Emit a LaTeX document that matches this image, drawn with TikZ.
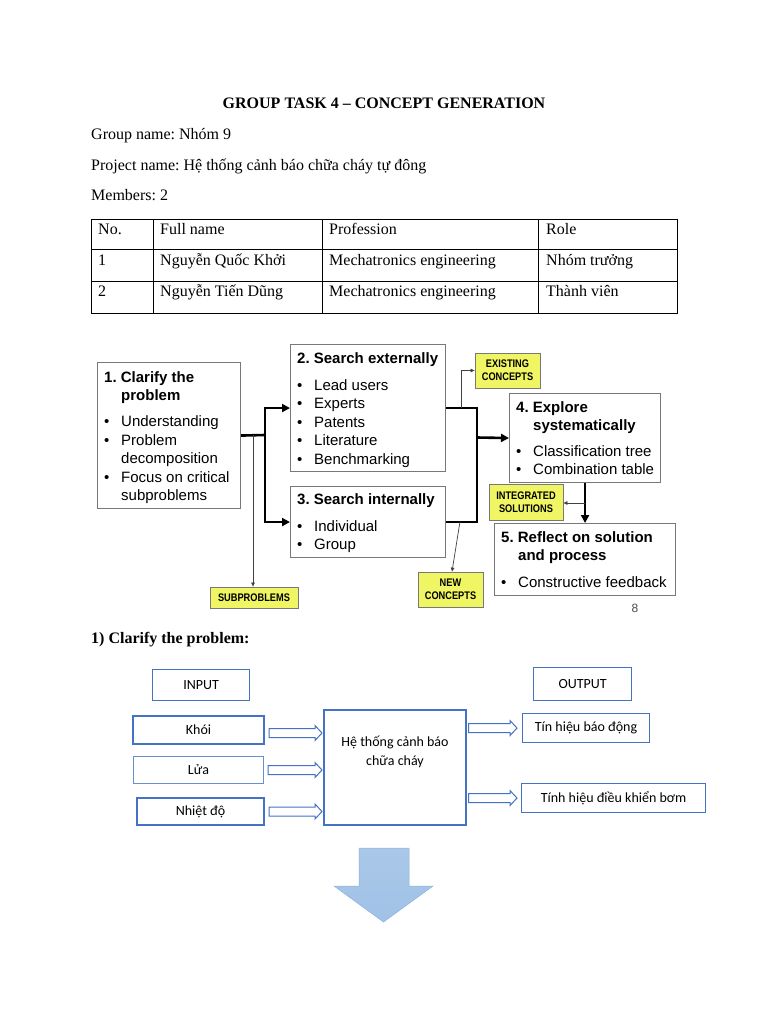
\documentclass[tikz,border=0pt]{standalone}
\usepackage{fontspec}
\setmainfont{Liberation Serif}
\newfontfamily\arialf{Liberation Sans}
\newfontfamily\narrowf[FakeStretch=0.84]{Liberation Sans}
\newfontfamily\calf{Carlito}
\usetikzlibrary{arrows.meta,calc}
\frenchspacing
\definecolor{ylw}{RGB}{240,245,100}
\definecolor{bdr}{RGB}{68,114,196}
\definecolor{gbd}{RGB}{120,120,120}
\definecolor{bfill}{RGB}{160,194,230}
\definecolor{bfilledge}{RGB}{140,178,222}
\newcommand\bul{\makebox[17pt][l]{•}}
\newcommand\ind{\hspace*{17pt}}
\newcommand\blockarrow[2]{\draw[barr] ($(#1)+(0,-4.5)$) -- ($(#2)+(-7,-4.5)$) -- ($(#2)+(-7,-7.5)$) -- (#2) -- ($(#2)+(-7,7.5)$) -- ($(#2)+(-7,4.5)$) -- ($(#1)+(0,4.5)$) -- cycle;}
\begin{document}
\begin{tikzpicture}[x=1pt,y=-1pt,
  txt/.style={anchor=base west, inner sep=0pt, font=\fontsize{16}{19}\selectfont},
  pbox/.style={draw=gbd, line width=1.1pt, fill=white, anchor=north west, inner sep=0pt},
  ptxt/.style={anchor=base west, inner sep=0pt, align=left, font=\arialf\fontsize{15}{18.5}\selectfont},
  ybox/.style={draw=gbd, line width=0.8pt, fill=ylw, inner sep=0pt, align=center, font=\narrowf\bfseries\fontsize{11}{13}\selectfont},
  thk/.style={line width=2.6pt},
  thn/.style={line width=0.7pt, draw=black!75},
  tip/.style={-{Triangle[length=8pt,width=8pt]}},
  stip/.style={-{Triangle[length=4pt,width=3.5pt]}},
  lbox/.style={draw=bdr, line width=1.1pt, inner sep=0pt, anchor=north west, font=\calf\fontsize{14}{19}\selectfont},
  ltxt/.style={font=\calf\fontsize{14}{19}\selectfont, inner sep=0pt},
  barr/.style={draw=bdr, line width=1pt, fill=white},
]
\useasboundingbox (0,0) rectangle (768,1024);
\fill[white] (0,0) rectangle (768,1024);

% ---------- header ----------
\node[txt, anchor=base, font=\fontsize{16}{19}\selectfont\bfseries] (title) at (384,109) {GROUP TASK 4 – CONCEPT GENERATION};
\node[txt] (gname) at (91,140) {Group name: Nhóm 9};
\node[txt] (pname) at (91,170.5) {Project name: Hệ thống cảnh báo chữa cháy tự đông};
\node[txt] (mem) at (91,201) {Members: 2};

% ---------- table ----------
\draw[line width=0.9pt] (91,219) rectangle (677,313);
\draw[line width=0.9pt] (91,249) -- (677,249) (91,281) -- (677,281)
  (153,219) -- (153,313) (322,219) -- (322,313) (538,219) -- (538,313);
\node[txt] (c11) at (98,235) {No.};
\node[txt] (c12) at (160,235) {Full name};
\node[txt] (c13) at (329,235) {Profession};
\node[txt] (c14) at (546,235) {Role};
\node[txt] (c21) at (98,265.5) {1};
\node[txt] (c22) at (160,265.5) {Nguyễn Quốc Khởi};
\node[txt] (c23) at (329,265.5) {Mechatronics engineering};
\node[txt] (c24) at (546,265.5) {Nhóm trưởng};
\node[txt] (c31) at (98,296) {2};
\node[txt] (c32) at (160,296) {Nguyễn Tiến Dũng};
\node[txt] (c33) at (329,296) {Mechatronics engineering};
\node[txt] (c34) at (546,296) {Thành viên};

% ---------- concept generation diagram ----------
\node[pbox, minimum width=143pt, minimum height=146pt] (b1) at (97,362) {};
\node[pbox, minimum width=155pt, minimum height=127pt] (b2) at (290,344) {};
\node[pbox, minimum width=155pt, minimum height=71pt] (b3) at (290,486) {};
\node[pbox, minimum width=151pt, minimum height=89pt] (b4) at (509,393) {};
\node[pbox, minimum width=181pt, minimum height=72pt] (b5) at (494,523) {};

% (base anchor of a multi-line node = baseline of its last line)
\node[ptxt] (t1) at (104,500.5) {\textbf{1. Clarify the}\\\ind\textbf{problem}\\[7.5pt]\bul Understanding\\\bul Problem\\\ind decomposition\\\bul Focus on critical\\\ind subproblems};
\node[ptxt] (t2) at (297,464) {\textbf{2. Search externally}\\[8.5pt]\bul Lead users\\\bul Experts\\\bul Patents\\\bul Literature\\\bul Benchmarking};
\node[ptxt] (t3) at (297,549.5) {\textbf{3. Search internally}\\[8.5pt]\bul Individual\\\bul Group};
\node[ptxt] (t4) at (516,474.5) {\textbf{4. Explore}\\\ind\textbf{systematically}\\[7pt]\bul Classification tree\\\bul Combination table};
\node[ptxt] (t5) at (501,587) {\textbf{5. Reflect on solution}\\\ind\textbf{and process}\\[8pt]\bul Constructive feedback};

\node[ybox, minimum width=65pt, minimum height=35pt] (ex) at (507.5,370.5) {EXISTING\\CONCEPTS};
\node[ybox, minimum width=74pt, minimum height=36pt] (is) at (526,502) {INTEGRATED\\SOLUTIONS};
\node[ybox, minimum width=65pt, minimum height=35pt] (nc) at (450.5,589.5) {NEW\\CONCEPTS};
\node[ybox, minimum width=88pt, minimum height=21pt] (sp) at (254,597.5) {SUBPROBLEMS};

\coordinate (J1) at (265,435);
\coordinate (J2) at (477,437.5);
\draw[thk] (b1.east) -- (J1);
\draw[thk,tip] (J1) |- (b2.west);
\draw[thk,tip] (J1) |- (b3.west);
\draw[thk] (b2.east) -| (J2);
\draw[thk] (b3.east) -| (J2);
\draw[thk,tip] (J2) -- (b4.west);
\draw[thk,tip] (b4.south) -- (b5.north);

\coordinate (T1) at (253,435);
\coordinate (T2) at (461,407.5);
\coordinate (T3) at (460,521.5);
\coordinate (T4) at (584.5,503);
\draw[thn,stip] (T1) -- (T1 |- sp.north);
\draw[thn,stip] (T2) |- (ex.west);
\draw[thn,stip] (T3) -- ($(nc.north)+(1.5,0)$);
\draw[thn,stip] (T4) -- (is.east |- T4);

\node[inner sep=0pt, font=\arialf\fontsize{12}{14}\selectfont, text=black!70] (pg) at (635,608) {8};

% ---------- section heading ----------
\node[txt, font=\fontsize{16}{19}\selectfont\bfseries] (sec) at (91,643.5) {1) Clarify the problem:};

% ---------- input / output diagram ----------
\node[lbox, minimum width=97pt, minimum height=31pt] (inp) at (152,669) {INPUT};
\node[lbox, minimum width=98pt, minimum height=33pt] (outp) at (533,667) {OUTPUT};
\node[lbox, line width=2pt, minimum width=131pt, minimum height=28pt] (khoi) at (132,715) {Khói};
\node[lbox, line width=1pt, draw=bdr!80, minimum width=130pt, minimum height=27pt] (lua) at (133,756) {Lửa};
\node[lbox, line width=2pt, minimum width=127pt, minimum height=27pt] (nhiet) at (136,797) {Nhiệt độ};
\node[lbox, line width=1.5pt, minimum width=142pt, minimum height=115pt] (sys) at (323,709) {};
\node[ltxt, align=center] (syst) at (395,752) {Hệ thống cảnh báo\\chữa cháy};
\node[lbox, minimum width=127pt, minimum height=29pt] (out1) at (522,713) {Tín hiệu báo động};
\node[lbox, minimum width=184pt, minimum height=29pt] (out2) at (521,783) {Tính hiệu điều khiển bơm};

\coordinate (k1) at ($(khoi.east)+(4,3)$);
\coordinate (k2) at ($(sys.west |- k1)+(-1,0)$);
\coordinate (l1) at ($(lua.east)+(4,0)$);
\coordinate (l2) at ($(sys.west |- l1)+(-1,0)$);
\coordinate (n1) at ($(nhiet.east)+(4,0)$);
\coordinate (n2) at ($(sys.west |- n1)+(-1,0)$);
\coordinate (o1) at ($(sys.east |- out1.west)+(2,0)$);
\coordinate (o2) at ($(out1.west)+(-5,0)$);
\coordinate (o3) at ($(sys.east |- out2.west)+(2,0)$);
\coordinate (o4) at ($(out2.west)+(-4,0)$);
\blockarrow{k1}{k2}
\blockarrow{l1}{l2}
\blockarrow{n1}{n2}
\blockarrow{o1}{o2}
\blockarrow{o3}{o4}

% ---------- big down arrow ----------
\shade[top color=bfill!90!white, bottom color=bfill, draw=bfilledge, line width=0.5pt]
  (359,848) -- (409,848) -- (409,886) -- (433,886) -- (383.5,922) -- (334,886) -- (359,886) -- cycle;
\end{tikzpicture}
\end{document}
